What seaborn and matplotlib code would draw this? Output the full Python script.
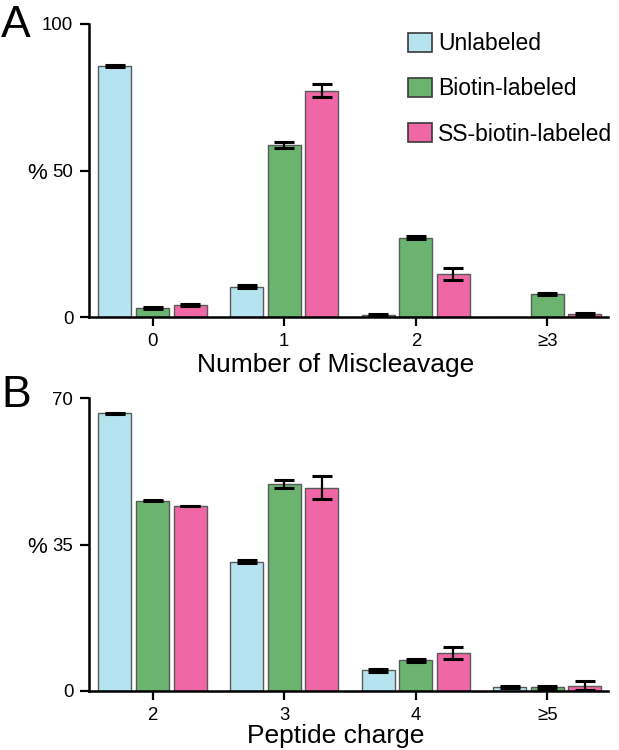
import pandas as pd
import numpy as np
import matplotlib
matplotlib.use("Agg")
import matplotlib.pyplot as plt
import matplotlib.transforms as mtransforms
import seaborn as sns

# data
labels = ["Unlabeled", "Biotin-labeled", "SS-biotin-labeled"]
colors = ["#b5e3ef", "#6ab46f", "#ef67a4"]

# panel A: number of miscleavage
cats_a = ["0", "1", "2", "≥3"]
unl_a = [85.7, 10.4, 0.8, 0.0]
bio_a = [3.1, 58.8, 27.1, 7.9]
ss_a = [4.2, 77.2, 14.6, 1.0]
unl_a_err = [0.4, 0.4, 0.3, 0.0]
bio_a_err = [0.2, 1.0, 0.4, 0.4]
ss_a_err = [0.3, 2.2, 2.0, 0.5]

# panel B: peptide charge
cats_b = ["2", "3", "4", "≥5"]
unl_b = [66.4, 30.9, 4.9, 0.9]
bio_b = [45.5, 49.5, 7.3, 0.8]
ss_b = [44.2, 48.6, 9.0, 1.2]
unl_b_err = [0.1, 0.4, 0.4, 0.2]
bio_b_err = [0.1, 0.9, 0.4, 0.4]
ss_b_err = [0.1, 2.7, 1.4, 1.1]

sns.set_style("ticks")
plt.rcParams['font.family'] = ['Liberation Sans', 'DejaVu Sans']
plt.rcParams['text.color'] = 'black'
plt.rcParams['axes.labelcolor'] = 'black'
plt.rcParams['xtick.color'] = 'black'
plt.rcParams['ytick.color'] = 'black'

fig = plt.figure(figsize=(6.19, 7.5), dpi=100)
ax_a = fig.add_axes([0.1443, 0.5773, 0.8379, 0.3907])
ax_b = fig.add_axes([0.1443, 0.0791, 0.8379, 0.3898])


def long_df(cats, series):
    rows = []
    for lab, vals in zip(labels, series):
        for c, v in zip(cats, vals):
            rows.append({"cat": c, "label": lab, "val": v})
    return pd.DataFrame(rows)


def draw_panel(ax, cats, series, errs, ymax, yticks, xlabel, label_y, legend):
    df = long_df(cats, series)
    sns.barplot(data=df, x="cat", y="val", hue="label", order=cats,
                hue_order=labels, palette=colors, saturation=1, width=0.855,
                gap=0.12, errorbar=None, edgecolor="#5a5a5a", linewidth=1.0,
                legend=legend, ax=ax)
    for cont, err in zip(ax.containers, errs):
        for bar, e in zip(cont, err):
            if e > 0:
                ax.errorbar(bar.get_x() + bar.get_width() / 2, bar.get_height(),
                            yerr=e, color="black", capsize=7,
                            elinewidth=1.6, capthick=2.2)
    ax.set_xlim(-0.48, 3.46)
    ax.set_ylim(0, ymax)
    ax.set_yticks(yticks)
    ax.set_ylabel("")
    ax.set_xlabel(xlabel, fontsize=19)
    ax.xaxis.set_label_coords(0.475, label_y)
    ax.xaxis.label.set_verticalalignment("baseline")
    ax.tick_params(axis="both", labelsize=13.4, width=1.6, length=6.5,
                   pad=5, color="black", labelcolor="black")
    sns.despine(ax=ax)
    for s in ["left", "bottom"]:
        ax.spines[s].set_linewidth(1.8)
        ax.spines[s].set_color("black")
    # "%" next to the middle tick
    tr = mtransforms.blended_transform_factory(fig.transFigure, ax.transData)
    ax.text(27 / 619, yticks[1] - ymax * 0.01, "%", transform=tr,
            fontsize=16, ha="left", va="center")


draw_panel(ax_a, cats_a, [unl_a, bio_a, ss_a], [unl_a_err, bio_a_err, ss_a_err],
           100, [0, 50, 100], "Number of Miscleavage", -0.187, True)
draw_panel(ax_b, cats_b, [unl_b, bio_b, ss_b], [unl_b_err, bio_b_err, ss_b_err],
           70, [0, 35, 70], "Peptide charge", -0.179, False)

leg = ax_a.legend(loc="upper left", bbox_to_anchor=(0.6587, 0.957),
                  bbox_transform=fig.transFigure, frameon=False, fontsize=16.5,
                  handlelength=1.04, handleheight=0.91, handletextpad=0.27,
                  labelspacing=0.97, borderpad=0, borderaxespad=0)
for h in leg.legend_handles:
    h.set_edgecolor("#3a3a3a")
    h.set_linewidth(1.2)

fig.text(0.002, 1 - 37 / 750, "A", fontsize=32, ha="left", va="baseline")
fig.text(0.002, 1 - 407 / 750, "B", fontsize=32, ha="left", va="baseline")

fig.savefig("out.png", dpi=100)
